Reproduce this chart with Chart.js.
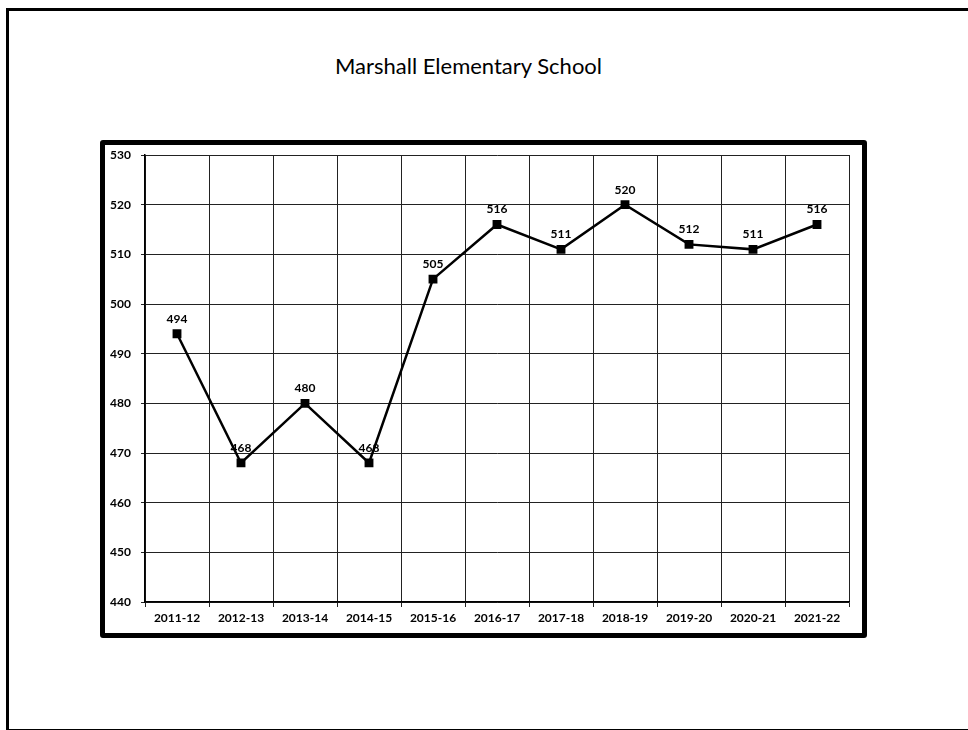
<!DOCTYPE html>
<html lang="en">
<head>
    <meta charset="UTF-8">
    <title>Marshall Elementary School</title>
    <script src="https://cdn.jsdelivr.net/npm/chart.js"></script>
    <style>
        html, body {
            margin: 0;
            padding: 0;
            background: #ffffff;
        }

        .page {
            position: relative;
            width: 968px;
            height: 730px;
            overflow: hidden;
        }

        /* outer slide frame */
        .frame {
            position: absolute;
            left: 6px;
            top: 8px;
            width: 980px;
            height: 718px;
            border: 3px solid #000;
            border-right: none;
        }

        .title {
            position: absolute;
            left: 335px;
            top: 53px;
            line-height: 26px;
            font-family: 'Lato', sans-serif;
            font-size: 22px;
            color: #000;
        }

        /* thick box around the chart */
        .box {
            position: absolute;
            left: 100px;
            top: 140px;
            width: 757px;
            height: 488px;
            border: 5px solid #000;
            border-radius: 3px;
        }

        #lineChart {
            position: absolute;
            left: 0;
            top: 0;
        }
    </style>
</head>
<body>
<div class="page">
    <div class="frame"></div>
    <div class="title">Marshall Elementary School</div>
    <div class="box"></div>
    <canvas id="lineChart" width="968" height="730"></canvas>
</div>

<script>
    // data
    const years = ['2011-12', '2012-13', '2013-14', '2014-15', '2015-16', '2016-17',
                   '2017-18', '2018-19', '2019-20', '2020-21', '2021-22'];
    const scores = [494, 468, 480, 468, 505, 516, 511, 520, 512, 511, 516];
    const yMin = 440;
    const yMax = 530;
    const yStep = 10;

    const tickFont = { family: 'Lato', size: 12, weight: 'bold' };

    // labels above each point
    const pointLabels = {
        id: 'pointLabels',
        afterDatasetsDraw(chart) {
            const ctx = chart.ctx;
            const meta = chart.getDatasetMeta(0);
            ctx.save();
            ctx.font = 'bold 12px Lato';
            ctx.fillStyle = '#000';
            ctx.textAlign = 'center';
            ctx.textBaseline = 'bottom';
            meta.data.forEach((pt, i) => {
                ctx.fillText(chart.data.datasets[0].data[i], pt.x, pt.y - 9);
            });
            ctx.restore();
        }
    };

    new Chart(document.getElementById('lineChart'), {
        type: 'line',
        data: {
            labels: years,
            datasets: [{
                data: scores,
                borderColor: '#000',
                borderWidth: 2.5,
                backgroundColor: '#000',
                pointStyle: 'rect',
                pointRadius: 4.5,
                pointHoverRadius: 4.5,
                tension: 0
            }]
        },
        options: {
            responsive: false,
            animation: false,
            layout: {
                padding: { left: 100, top: 155, right: 119, bottom: 98 }
            },
            plugins: {
                legend: { display: false },
                tooltip: { enabled: false }
            },
            scales: {
                x: {
                    offset: true,
                    afterFit(scale) { scale.height = 30; },
                    grid: {
                        offset: true,
                        color: '#222',
                        lineWidth: 1,
                        tickLength: 5
                    },
                    border: { color: '#000', width: 1.5 },
                    ticks: {
                        color: '#000',
                        font: tickFont,
                        padding: 4,
                        maxRotation: 0
                    }
                },
                y: {
                    min: yMin,
                    max: yMax,
                    afterFit(scale) { scale.width = 45; },
                    grid: {
                        color: '#222',
                        lineWidth: 1,
                        tickLength: 4
                    },
                    border: { color: '#000', width: 1.5 },
                    ticks: {
                        stepSize: yStep,
                        color: '#000',
                        font: tickFont,
                        padding: 10
                    }
                }
            }
        },
        plugins: [pointLabels]
    });
</script>
</body>
</html>
